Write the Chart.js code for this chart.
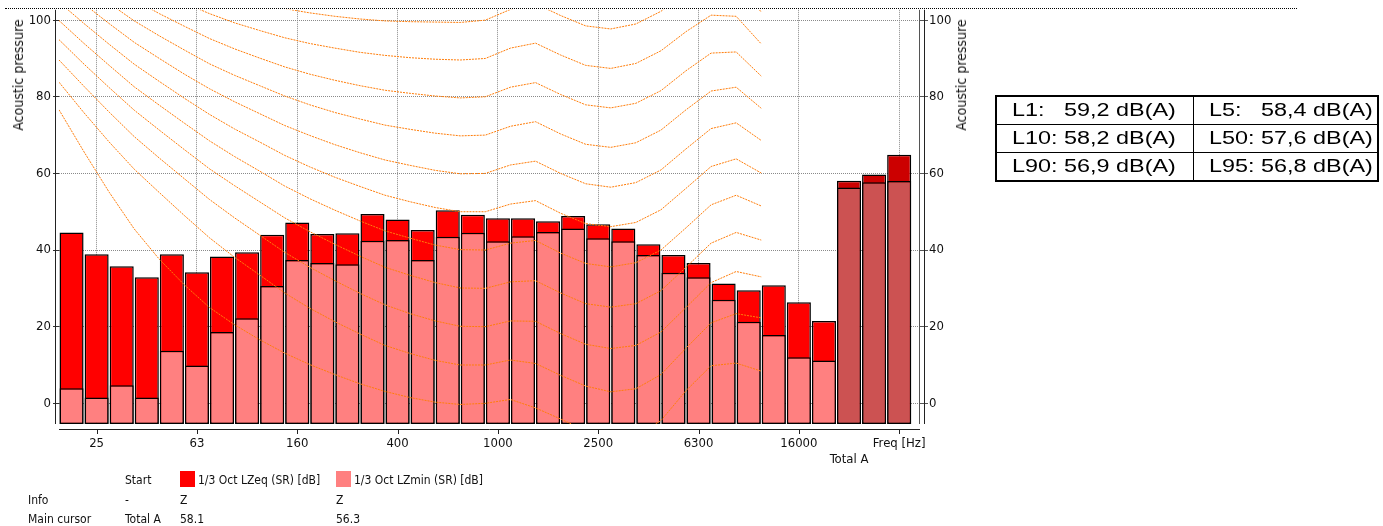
<!DOCTYPE html>
<html>
<head>
<meta charset="utf-8">
<script src="https://cdn.jsdelivr.net/npm/chart.js@4.4.1/dist/chart.umd.min.js"></script>
<style>
  html, body { margin: 0; padding: 0; background: #fff; }
  body { width: 1383px; height: 526px; position: relative; overflow: hidden;
         font-family: "DejaVu Sans Condensed", "Liberation Sans", sans-serif; color: #111; }
  #chart { position: absolute; left: 0; top: 0; }
  .topline { position: absolute; left: 5px; top: 8px; width: 1292px; border-top: 1px dotted #000; }
  .ytitle { position: absolute; top: 75px; font-size: 14px; white-space: nowrap;
            transform: translate(-50%, -50%) rotate(-90deg); }
  .lg { position: absolute; font-size: 12px; line-height: 16px; white-space: nowrap; }
  .sw { position: absolute; width: 15px; height: 16px; }
  #stats { position: absolute; left: 995px; top: 95px; width: 382px; border-collapse: collapse;
           border: 2px solid #000; table-layout: fixed; }
  #stats td { border: 1px solid #000; height: 27px; padding: 0 0 0 15px; white-space: pre;
              font: 18px "Liberation Sans", Arial, sans-serif; color: #000; overflow: visible; }
  #stats td span { display: inline-block; transform: scaleX(1.3); transform-origin: left center; }
</style>
</head>
<body>
<canvas id="chart" width="1383" height="526"></canvas>
<div class="topline"></div>
<div class="ytitle" style="left:18px">Acoustic pressure</div>
<div class="ytitle" style="left:961px">Acoustic pressure</div>
<table id="stats"><colgroup><col style="width:197px"><col style="width:185px"></colgroup><tbody></tbody></table>
<div id="legend"></div>

<script>
// 1/3 octave bands plus the three total bars
const bands = ["20", "25", "31.5", "40", "50", "63", "80", "100", "125", "160", "200", "250",
  "315", "400", "500", "630", "800", "1000", "1250", "1600", "2000", "2500", "3150", "4000",
  "5000", "6300", "8000", "10000", "12500", "16000", "20000", "Total A", "Total C", "Total Z"];

// 1/3 Oct LZeq (SR) [dB]
const lzeq = [44.6, 38.9, 35.8, 32.9, 38.9, 34.2, 38.3, 39.4, 44.0, 47.2, 44.2, 44.4,
  49.4, 48.0, 45.2, 50.4, 49.2, 48.3, 48.3, 47.5, 48.9, 46.7, 45.6, 41.5, 38.7, 36.6,
  31.3, 29.5, 30.8, 26.4, 21.5, 58.1, 59.7, 64.9];

// 1/3 Oct LZmin (SR) [dB]
const lzmin = [3.9, 1.5, 4.7, 1.5, 13.7, 9.9, 18.6, 22.2, 30.6, 37.4, 36.6, 36.3,
  42.4, 42.6, 37.4, 43.5, 44.5, 42.3, 43.6, 44.7, 45.6, 43.1, 42.3, 38.7, 34.1, 32.9,
  27.0, 21.3, 17.8, 12.0, 11.2, 56.3, 57.7, 58.0];

// equal loudness contours, 20 Hz .. 12.5 kHz, 0 to 100 phon
const iso0 = [76.6, 65.6, 55.1, 45.5, 37.6, 30.9, 25.0, 20.5, 16.6, 13.1, 10.1, 7.5, 5.1, 3.1, 1.5, 0.3, -0.3, 0.0, 1.0, -1.2, -4.1, -7.1, -9.0, -8.5, -4.5, 3.3, 9.8, 10.5, 8.4];
const iso10 = [83.8, 75.8, 68.2, 61.1, 55.0, 49.0, 43.2, 38.1, 33.5, 28.8, 24.8, 21.3, 18.1, 15.1, 13.0, 11.2, 10.0, 10.0, 11.3, 10.4, 7.3, 4.5, 3.0, 3.8, 7.5, 14.4, 21.0, 23.4, 22.3];
const iso20 = [89.6, 82.7, 76.0, 69.6, 64.0, 58.6, 53.2, 48.4, 43.9, 39.4, 35.5, 32.0, 28.7, 25.7, 23.4, 21.5, 20.1, 20.0, 21.5, 21.4, 18.2, 15.4, 14.3, 15.1, 18.6, 25.0, 31.5, 34.4, 33.0];
const iso30 = [94.9, 88.5, 82.4, 76.5, 71.3, 66.2, 61.2, 56.8, 52.6, 48.4, 44.8, 41.5, 38.4, 35.5, 33.4, 31.5, 30.1, 30.0, 31.7, 32.0, 28.8, 26.0, 25.1, 26.0, 29.4, 35.5, 41.8, 44.6, 42.6];
const iso40 = [99.9, 93.9, 88.2, 82.6, 77.8, 73.1, 68.5, 64.4, 60.6, 56.7, 53.4, 50.4, 47.6, 45.0, 43.1, 41.3, 40.1, 40.0, 41.8, 42.5, 39.2, 36.5, 35.6, 36.7, 40.0, 45.8, 51.8, 54.3, 51.5];
const iso50 = [104.7, 99.1, 93.7, 88.5, 84.0, 79.6, 75.4, 71.6, 68.2, 64.7, 61.7, 59.0, 56.6, 54.3, 52.6, 51.1, 50.0, 50.0, 52.0, 52.9, 49.6, 46.9, 46.1, 47.2, 50.5, 56.1, 61.8, 63.8, 60.1];
const iso60 = [109.5, 104.2, 99.1, 94.2, 90.0, 85.9, 82.1, 78.7, 75.6, 72.5, 69.9, 67.5, 65.4, 63.5, 62.1, 60.8, 59.9, 60.0, 62.2, 63.2, 60.0, 57.3, 56.4, 57.6, 60.9, 66.4, 71.7, 73.2, 68.6];
const iso70 = [114.3, 109.3, 104.4, 99.8, 95.9, 92.2, 88.6, 85.6, 82.9, 80.2, 77.9, 75.9, 74.2, 72.6, 71.5, 70.5, 69.8, 70.0, 72.3, 73.5, 70.3, 67.6, 66.8, 68.0, 71.3, 76.6, 81.5, 82.5, 77.0];
const iso80 = [119.0, 114.2, 109.6, 105.3, 101.7, 98.4, 95.2, 92.5, 90.1, 87.8, 85.9, 84.3, 82.9, 81.7, 80.9, 80.2, 79.7, 80.0, 82.5, 83.7, 80.6, 77.9, 77.1, 78.3, 81.6, 86.8, 91.4, 91.7, 85.4];
const iso90 = [123.7, 119.2, 114.9, 110.9, 107.6, 104.5, 101.7, 99.3, 97.3, 95.4, 93.9, 92.7, 91.6, 90.8, 90.2, 89.8, 89.6, 90.0, 92.7, 94.0, 90.9, 88.2, 87.4, 88.7, 92.0, 97.0, 101.3, 101.0, 93.8];
const iso100 = [128.4, 124.2, 120.1, 116.4, 113.4, 110.6, 108.2, 106.2, 104.5, 103.0, 101.9, 101.0, 100.3, 99.8, 99.6, 99.5, 99.4, 100.0, 102.8, 104.3, 101.2, 98.5, 97.7, 99.0, 102.3, 107.2, 111.1, 110.2, 102.1];
const contours = [iso0, iso10, iso20, iso30, iso40, iso50, iso60, iso70, iso80, iso90, iso100];

// axis ticks
const yTicks = [0, 20, 40, 60, 80, 100];
const xTickIdx = [1, 5, 9, 13, 17, 21, 25, 29, 31, 33];
const xTickText = ["25", "63", "160", "400", "1000", "2500", "6300", "16000", ["", "Total A"], "Freq [Hz]"];

// statistics table
const statNames = ["L1:   ", "L5:   ", "L10: ", "L50: ", "L90: ", "L95: "];
const statValues = [59.2, 58.4, 58.2, 57.6, 56.9, 56.8];

const TOTAL_A = 31;       // first total bar / cursor position
const Y_MIN = -5.4, Y_MAX = 102.7;
const X_MIN = -0.5, X_MAX = 33.79;
const FONT = '"DejaVu Sans Condensed", "Liberation Sans", sans-serif';

// build the statistics table
const tbody = document.querySelector("#stats tbody");
for (let r = 0; r < 3; r++) {
  const tr = document.createElement("tr");
  for (let c = 0; c < 2; c++) {
    const k = r * 2 + c;
    const td = document.createElement("td");
    const span = document.createElement("span");
    span.textContent = statNames[k] + statValues[k].toFixed(1).replace(".", ",") + " dB(A)";
    td.appendChild(span);
    tr.appendChild(td);
  }
  tbody.appendChild(tr);
}

// legend / cursor block under the chart
function addText(txt, x, y) {
  const d = document.createElement("div");
  d.className = "lg";
  d.style.left = x + "px";
  d.style.top = y + "px";
  d.textContent = txt;
  document.getElementById("legend").appendChild(d);
}
function addSwatch(color, x, y) {
  const d = document.createElement("div");
  d.className = "sw";
  d.style.left = x + "px";
  d.style.top = y + "px";
  d.style.background = color;
  document.getElementById("legend").appendChild(d);
}
addText("Start", 125, 472);
addSwatch("#ff0000", 180, 471);
addText("1/3 Oct LZeq (SR) [dB]", 198, 472);
addSwatch("#ff8080", 336, 471);
addText("1/3 Oct LZmin (SR) [dB]", 354, 472);
addText("Info", 28, 492);
addText("-", 125, 492);
addText("Z", 180, 492);
addText("Z", 336, 492);
addText("Main cursor", 28, 511);
addText(bands[TOTAL_A], 125, 511);
addText(lzeq[TOTAL_A].toFixed(1), 180, 511);
addText(lzmin[TOTAL_A].toFixed(1), 336, 511);

// extra axis lines, drawn a few pixels away from the plot area like the original
const axisLines = {
  id: "axisLines",
  afterDraw(chart) {
    const { ctx, chartArea: a } = chart;
    const xs = chart.scales.x;
    ctx.save();
    ctx.lineWidth = 1;
    ctx.strokeStyle = "#222";
    ctx.beginPath();
    ctx.moveTo(55.5, a.top);
    ctx.lineTo(55.5, a.bottom);
    ctx.moveTo(a.left, Math.round(a.bottom) + 5.5);
    ctx.lineTo(a.right + 1, Math.round(a.bottom) + 5.5);
    ctx.moveTo(Math.round(a.right) + 5.5, a.top);
    ctx.lineTo(Math.round(a.right) + 5.5, a.bottom);
    xs.ticks.forEach((t) => {
      if (t.value === TOTAL_A) return;
      const px = Math.round(xs.getPixelForValue(t.value)) + 0.5;
      ctx.moveTo(px, Math.round(a.bottom) + 5);
      ctx.lineTo(px, Math.round(a.bottom) + 10);
    });
    ctx.stroke();
    ctx.strokeStyle = "#555";
    ctx.beginPath();
    ctx.moveTo(Math.round(a.right) + 0.5, a.top);
    ctx.lineTo(Math.round(a.right) + 0.5, a.bottom);
    ctx.stroke();
    ctx.restore();
  }
};

const contourSets = contours.map((vals, k) => ({
  type: "line",
  label: k * 10 + " phon",
  data: vals.map((v, j) => ({ x: j - 0.5, y: v })),
  borderColor: "rgb(255,125,10)",
  borderWidth: 1,
  borderDash: [2, 1],
  pointRadius: 0,
  tension: 0,
  order: 0
}));

new Chart(document.getElementById("chart"), {
  type: "bar",
  data: {
    datasets: [
      ...contourSets,
      {
        label: "1/3 Oct LZmin (SR) [dB]",
        data: lzmin.map((v, i) => ({ x: i, y: v })),
        backgroundColor: lzmin.map((_, i) => (i >= TOTAL_A ? "#cc5252" : "#ff8080")),
        borderColor: "#000",
        borderWidth: 1.5,
        borderSkipped: false,
        base: Y_MIN,
        grouped: false,
        barPercentage: 0.96,
        categoryPercentage: 1,
        order: 1
      },
      {
        label: "1/3 Oct LZeq (SR) [dB]",
        data: lzeq.map((v, i) => ({ x: i, y: v })),
        backgroundColor: lzeq.map((_, i) => (i >= TOTAL_A ? "#cc0000" : "#ff0000")),
        borderColor: "#000",
        borderWidth: 1.5,
        borderSkipped: false,
        base: Y_MIN,
        grouped: false,
        barPercentage: 0.96,
        categoryPercentage: 1,
        order: 2
      }
    ]
  },
  options: {
    responsive: false,
    animation: false,
    devicePixelRatio: 1,
    layout: { padding: { left: 0, top: 8, right: 414, bottom: 0 } },
    plugins: { legend: { display: false }, tooltip: { enabled: false } },
    scales: {
      x: {
        type: "linear",
        min: X_MIN,
        max: X_MAX,
        offset: false,
        afterFit: (s) => { s.height = 102; },
        afterBuildTicks: (s) => { s.ticks = xTickIdx.map((v) => ({ value: v })); },
        ticks: {
          autoSkip: false,
          maxRotation: 0,
          padding: 3,
          color: "#111",
          font: { family: FONT, size: 13 },
          callback: (v) => xTickText[xTickIdx.indexOf(v)]
        },
        grid: {
          offset: false,
          color: (c) => (c.tick && c.tick.value === TOTAL_A ? "transparent" : "#8a8a8a"),
          tickColor: "transparent",
          tickLength: 9
        },
        border: { display: false, dash: [1, 1] }
      },
      y: {
        position: "left",
        min: Y_MIN,
        max: Y_MAX,
        afterFit: (s) => { s.width = 59; },
        afterBuildTicks: (s) => { s.ticks = yTicks.map((v) => ({ value: v })); },
        ticks: { padding: 2, color: "#111", font: { family: FONT, size: 13 } },
        grid: { color: "#8a8a8a", tickColor: "#333", tickLength: 6 },
        border: { display: false, dash: [1, 1] }
      },
      y2: {
        position: "right",
        min: Y_MIN,
        max: Y_MAX,
        afterFit: (s) => { s.width = 50; },
        afterBuildTicks: (s) => { s.ticks = yTicks.map((v) => ({ value: v })); },
        ticks: { padding: 1, color: "#111", font: { family: FONT, size: 13 } },
        grid: { drawOnChartArea: false, tickColor: "#555", tickLength: 9 },
        border: { display: false }
      }
    }
  },
  plugins: [axisLines]
});
</script>
</body>
</html>
